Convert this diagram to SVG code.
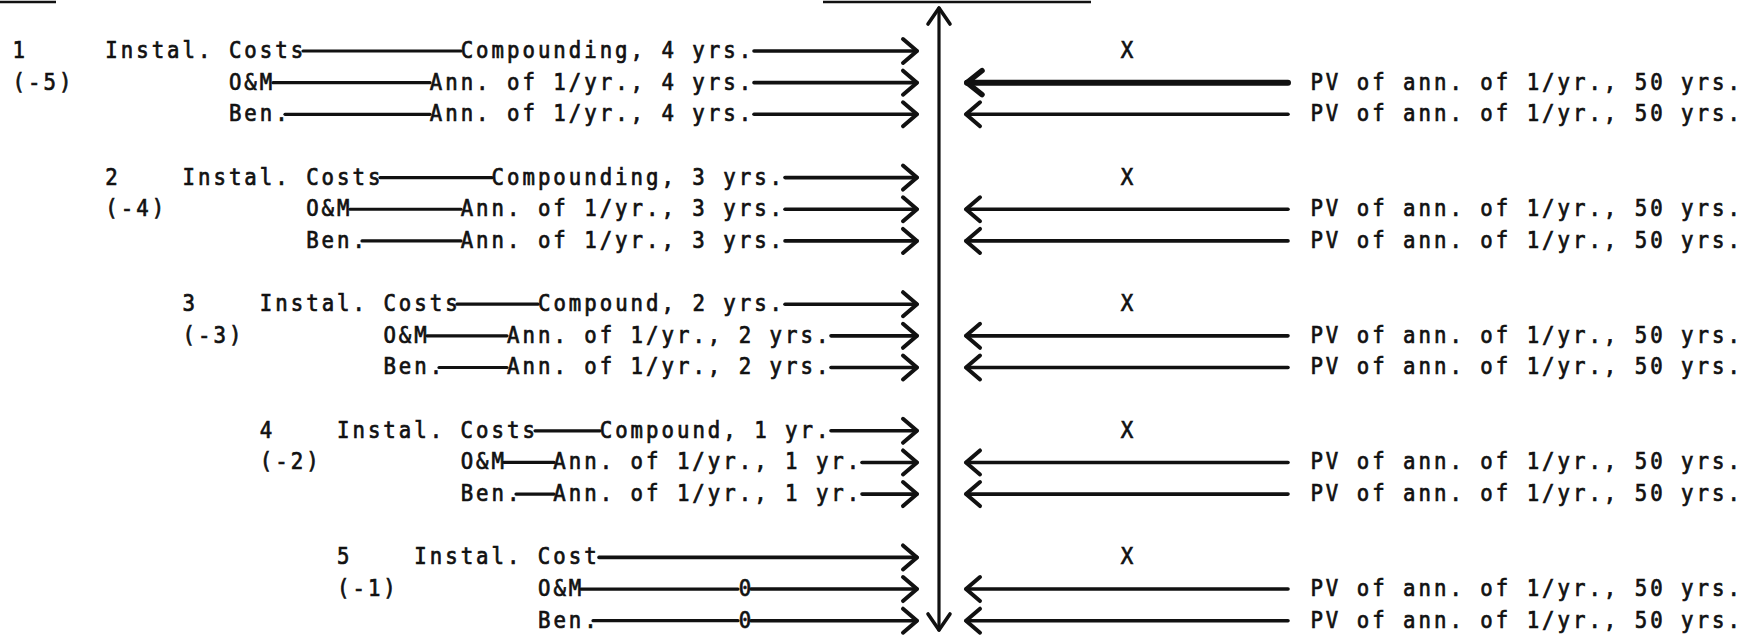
<svg xmlns="http://www.w3.org/2000/svg" width="1749" height="636" viewBox="0 0 1749 636">
<style>
text{font-family:"DejaVu Sans Mono","Liberation Mono",monospace;font-size:23.5px;letter-spacing:3.41px;fill:#111;stroke:#111;stroke-width:0.75px}
.x{text-anchor:middle;letter-spacing:0}
.ln{stroke:#111;stroke-width:3.2;fill:none;stroke-linecap:round}
.ar{stroke:#111;stroke-width:3.6;fill:none;stroke-linecap:round;marker-end:url(#ah)}
.thick{stroke-width:6;marker-end:url(#ahb)}
.ul{stroke:#111;stroke-width:2.5}
</style>
<defs>
<marker id="ah" markerUnits="userSpaceOnUse" viewBox="-18 -14 22 28" markerWidth="22" markerHeight="28" refX="0" refY="0" orient="auto-start-reverse" overflow="visible">
<path d="M-14,-12 L0,0 L-14,12" fill="none" stroke="#111" stroke-width="4" stroke-linecap="round" stroke-linejoin="round"/>
</marker>
<marker id="ahb" markerUnits="userSpaceOnUse" viewBox="-18 -14 22 28" markerWidth="22" markerHeight="28" refX="0" refY="0" orient="auto-start-reverse" overflow="visible">
<path d="M-15,-12 L0,0 L-15,12" fill="none" stroke="#111" stroke-width="5.5" stroke-linecap="round" stroke-linejoin="round"/>
</marker>
<marker id="ahv" markerUnits="userSpaceOnUse" viewBox="-18 -14 22 28" markerWidth="22" markerHeight="28" refX="0" refY="0" orient="auto-start-reverse" overflow="visible">
<path d="M-16,-11 L0,0 L-16,11" fill="none" stroke="#111" stroke-width="3.6" stroke-linecap="round" stroke-linejoin="round"/>
</marker>
</defs>
<rect width="1749" height="636" fill="#fff"/>
<g id="underlines">
<line class="ul" x1="0" y1="2" x2="56" y2="2"/>
<line class="ul" x1="823" y1="2" x2="1091" y2="2"/>
</g>
<g id="labels" transform="scale(0.88,1)">
<g id="period-1">
<g id="p1-num"><text x="14.3" y="58">1</text><text x="14.3" y="89.65">(-5)</text></g>
<g id="p1-inst"><text x="119.7" y="58">Instal. Costs</text></g>
<g id="p1-inst-op"><text x="523.5" y="58">Compounding, 4 yrs.</text></g>
<g id="p1-om"><text x="260.1" y="89.65">O&amp;M</text></g>
<g id="p1-om-op"><text x="488.4" y="89.65">Ann. of 1/yr., 4 yrs.</text></g>
<g id="p1-ben"><text x="260.1" y="121.3">Ben.</text></g>
<g id="p1-ben-op"><text x="488.4" y="121.3">Ann. of 1/yr., 4 yrs.</text></g>
<g id="p1-x"><text class="x" x="1280.7" y="58">X</text></g>
<g id="p1-pv1"><text x="1489.1" y="89.65">PV of ann. of 1/yr., 50 yrs.</text></g>
<g id="p1-pv2"><text x="1489.1" y="121.3">PV of ann. of 1/yr., 50 yrs.</text></g>
</g>
<g id="period-2">
<g id="p2-num"><text x="119.7" y="184.6">2</text><text x="119.7" y="216.25">(-4)</text></g>
<g id="p2-inst"><text x="207.5" y="184.6">Instal. Costs</text></g>
<g id="p2-inst-op"><text x="558.6" y="184.6">Compounding, 3 yrs.</text></g>
<g id="p2-om"><text x="347.9" y="216.25">O&amp;M</text></g>
<g id="p2-om-op"><text x="523.5" y="216.25">Ann. of 1/yr., 3 yrs.</text></g>
<g id="p2-ben"><text x="347.9" y="247.9">Ben.</text></g>
<g id="p2-ben-op"><text x="523.5" y="247.9">Ann. of 1/yr., 3 yrs.</text></g>
<g id="p2-x"><text class="x" x="1280.7" y="184.6">X</text></g>
<g id="p2-pv1"><text x="1489.1" y="216.25">PV of ann. of 1/yr., 50 yrs.</text></g>
<g id="p2-pv2"><text x="1489.1" y="247.9">PV of ann. of 1/yr., 50 yrs.</text></g>
</g>
<g id="period-3">
<g id="p3-num"><text x="207.5" y="311.2">3</text><text x="207.5" y="342.85">(-3)</text></g>
<g id="p3-inst"><text x="295.3" y="311.2">Instal. Costs</text></g>
<g id="p3-inst-op"><text x="611.3" y="311.2">Compound, 2 yrs.</text></g>
<g id="p3-om"><text x="435.7" y="342.85">O&amp;M</text></g>
<g id="p3-om-op"><text x="576.2" y="342.85">Ann. of 1/yr., 2 yrs.</text></g>
<g id="p3-ben"><text x="435.7" y="374.5">Ben.</text></g>
<g id="p3-ben-op"><text x="576.2" y="374.5">Ann. of 1/yr., 2 yrs.</text></g>
<g id="p3-x"><text class="x" x="1280.7" y="311.2">X</text></g>
<g id="p3-pv1"><text x="1489.1" y="342.85">PV of ann. of 1/yr., 50 yrs.</text></g>
<g id="p3-pv2"><text x="1489.1" y="374.5">PV of ann. of 1/yr., 50 yrs.</text></g>
</g>
<g id="period-4">
<g id="p4-num"><text x="295.3" y="437.8">4</text><text x="295.3" y="469.45">(-2)</text></g>
<g id="p4-inst"><text x="383.0" y="437.8">Instal. Costs</text></g>
<g id="p4-inst-op"><text x="681.5" y="437.8">Compound, 1 yr.</text></g>
<g id="p4-om"><text x="523.5" y="469.45">O&amp;M</text></g>
<g id="p4-om-op"><text x="628.8" y="469.45">Ann. of 1/yr., 1 yr.</text></g>
<g id="p4-ben"><text x="523.5" y="501.1">Ben.</text></g>
<g id="p4-ben-op"><text x="628.8" y="501.1">Ann. of 1/yr., 1 yr.</text></g>
<g id="p4-x"><text class="x" x="1280.7" y="437.8">X</text></g>
<g id="p4-pv1"><text x="1489.1" y="469.45">PV of ann. of 1/yr., 50 yrs.</text></g>
<g id="p4-pv2"><text x="1489.1" y="501.1">PV of ann. of 1/yr., 50 yrs.</text></g>
</g>
<g id="period-5">
<g id="p5-num"><text x="383.0" y="564.4">5</text><text x="383.0" y="596.05">(-1)</text></g>
<g id="p5-inst"><text x="470.8" y="564.4">Instal. Cost</text></g>
<g id="p5-om"><text x="611.3" y="596.05">O&amp;M</text></g>
<g id="p5-om-op"><text x="839.5" y="596.05">0</text></g>
<g id="p5-ben"><text x="611.3" y="627.7">Ben.</text></g>
<g id="p5-ben-op"><text x="839.5" y="627.7">0</text></g>
<g id="p5-x"><text class="x" x="1280.7" y="564.4">X</text></g>
<g id="p5-pv1"><text x="1489.1" y="596.05">PV of ann. of 1/yr., 50 yrs.</text></g>
<g id="p5-pv2"><text x="1489.1" y="627.7">PV of ann. of 1/yr., 50 yrs.</text></g>
</g>
</g>
<g id="connectors">
<line x1="939" y1="630" x2="939" y2="8" class="ln" marker-start="url(#ahv)" marker-end="url(#ahv)"/>
<line class="ln" x1="303" y1="51" x2="461" y2="51"/>
<line class="ar" x1="754" y1="51" x2="917" y2="51"/>
<line class="ln" x1="273" y1="82.65" x2="430" y2="82.65"/>
<line class="ar" x1="754" y1="82.65" x2="917" y2="82.65"/>
<line class="ln" x1="285" y1="114.3" x2="430" y2="114.3"/>
<line class="ar" x1="754" y1="114.3" x2="917" y2="114.3"/>
<line class="ar thick" x1="1288" y1="82.65" x2="967" y2="82.65"/>
<line class="ar" x1="1288" y1="114.3" x2="966" y2="114.3"/>
<line class="ln" x1="380" y1="177.6" x2="492" y2="177.6"/>
<line class="ar" x1="785" y1="177.6" x2="917" y2="177.6"/>
<line class="ln" x1="350" y1="209.25" x2="461" y2="209.25"/>
<line class="ar" x1="785" y1="209.25" x2="917" y2="209.25"/>
<line class="ln" x1="362" y1="240.9" x2="461" y2="240.9"/>
<line class="ar" x1="785" y1="240.9" x2="917" y2="240.9"/>
<line class="ar" x1="1288" y1="209.25" x2="966" y2="209.25"/>
<line class="ar" x1="1288" y1="240.9" x2="966" y2="240.9"/>
<line class="ln" x1="457" y1="304.2" x2="538" y2="304.2"/>
<line class="ar" x1="785" y1="304.2" x2="917" y2="304.2"/>
<line class="ln" x1="427" y1="335.85" x2="507" y2="335.85"/>
<line class="ar" x1="831" y1="335.85" x2="917" y2="335.85"/>
<line class="ln" x1="439" y1="367.5" x2="507" y2="367.5"/>
<line class="ar" x1="831" y1="367.5" x2="917" y2="367.5"/>
<line class="ar" x1="1288" y1="335.85" x2="966" y2="335.85"/>
<line class="ar" x1="1288" y1="367.5" x2="966" y2="367.5"/>
<line class="ln" x1="535" y1="430.8" x2="600" y2="430.8"/>
<line class="ar" x1="831" y1="430.8" x2="917" y2="430.8"/>
<line class="ln" x1="504" y1="462.45" x2="554" y2="462.45"/>
<line class="ar" x1="862" y1="462.45" x2="917" y2="462.45"/>
<line class="ln" x1="516" y1="494.1" x2="554" y2="494.1"/>
<line class="ar" x1="862" y1="494.1" x2="917" y2="494.1"/>
<line class="ar" x1="1288" y1="462.45" x2="966" y2="462.45"/>
<line class="ar" x1="1288" y1="494.1" x2="966" y2="494.1"/>
<line class="ar" x1="599" y1="557.4" x2="917" y2="557.4"/>
<line class="ln" x1="581" y1="589.05" x2="738" y2="589.05"/>
<line class="ar" x1="751" y1="589.05" x2="917" y2="589.05"/>
<line class="ln" x1="593" y1="620.7" x2="738" y2="620.7"/>
<line class="ar" x1="751" y1="620.7" x2="917" y2="620.7"/>
<line class="ar" x1="1288" y1="589.05" x2="966" y2="589.05"/>
<line class="ar" x1="1288" y1="620.7" x2="966" y2="620.7"/>
</g>
</svg>
